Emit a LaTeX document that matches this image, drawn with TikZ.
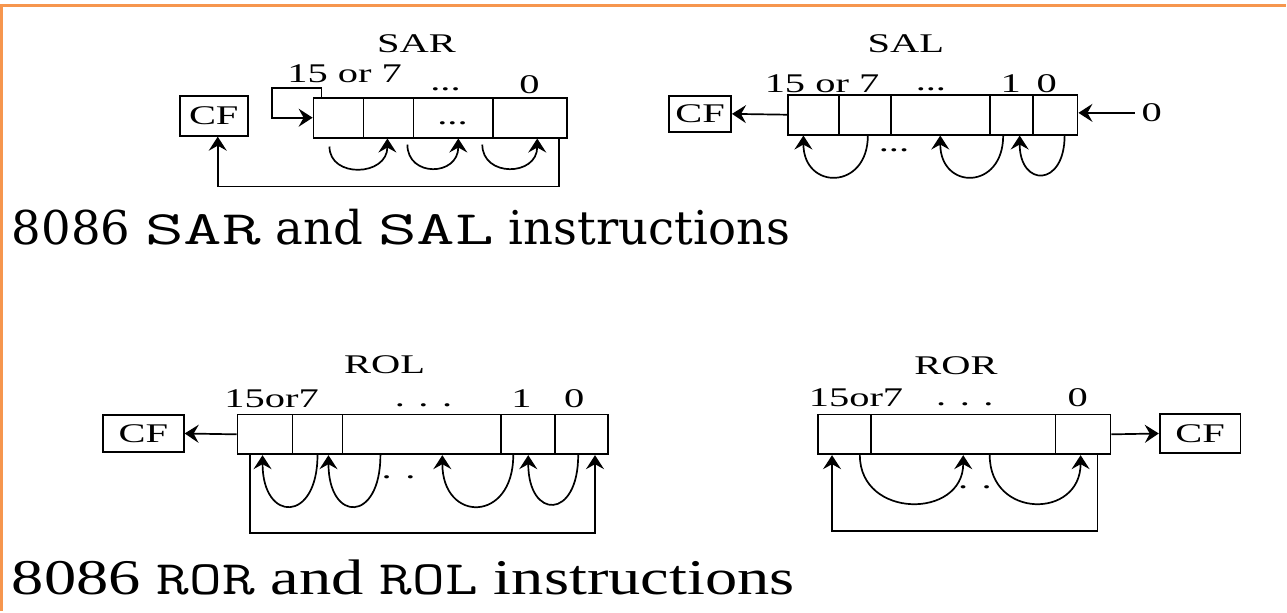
\documentclass[tikz,border=0pt]{standalone}
\usepackage{fontspec}
\usepackage{graphicx}
\setmainfont{Liberation Serif}
\newfontfamily\capfont{DejaVu Serif}
\usetikzlibrary{arrows.meta,positioning}
\definecolor{frame}{RGB}{246,150,78}
% stretch the text sideways like the scan
\newcommand{\hs}[1]{\scalebox{1.5}[1]{#1}}
% wide typewriter word in the captions
\newcommand{\ttw}[2]{\resizebox{#1}{\height}{\ttfamily\fontsize{24}{24}\selectfont #2}}

\tikzset{
  arr/.style={-{Stealth[length=7pt,width=9pt,inset=2.5pt]}},
  cell/.style={draw, anchor=north west, minimum height=20pt, inner sep=0pt},
  flag/.style={draw, inner sep=0pt, font=\fontsize{13.5}{14}\selectfont},
  lbl/.style={inner sep=0pt, font=\fontsize{13.5}{14}\selectfont},
}

\begin{document}
\begin{tikzpicture}[x=0.5pt, y=-0.5pt, line width=0.85pt]
    \fill[white] (0,0) rectangle (1287,612);
    \draw[frame, line width=1.5pt] (1287,6) -- (2,6) -- (2,612);

    % SAR
    \node[lbl] (sarname) at (417,44) {\hs{SAR}};
    \node[lbl] (sarhi) at (345,74) {\hs{15 or 7}};
    \node[lbl] (sardots) at (446,89) {\hs{...}};
    \node[lbl] (sarlo) at (530,85) {\hs{0}};
    \node[flag, minimum width=34pt, minimum height=20pt] (cfa) at (214,116) {\hs{CF}};
    \foreach \xl/\w [count=\i] in {313/50,363/50,413/80,493/74}
        {
            \node[cell, minimum width=\w*0.5pt] (sar\i) at (\xl,97) {};
        }
    \node[lbl] (sarmid) at (453,123) {\hs{...}};

    \draw[arr] ([xshift=4.5pt]sar1.north west) -- ++(0,-9) -- ++(-50,0) |- (sar1.west);
    \draw[arr] ([xshift=-4.5pt,yshift=-4pt]sar1.south) .. controls +(0,32) and +(0,38) .. ([xshift=-0.5pt]sar2.south);
    \draw[arr] ([xshift=9.5pt,yshift=-3pt]sar2.south) .. controls +(0,33) and +(0,38) .. ([xshift=2.5pt]sar3.south);
    \draw[arr] ([xshift=14.5pt,yshift=-3pt]sar3.south) .. controls +(0,33) and +(0,38) .. ([xshift=3.5pt]sar4.south);
    \draw[arr] ([xshift=-4.5pt]sar4.south east) -- ++(0,48) -| ([xshift=2pt]cfa.south);

    % SAL
    \node[lbl] (salname) at (907,44) {\hs{SAL}};
    \node[lbl] (salhi) at (823,84) {\hs{15 or 7}};
    \node[lbl] (saldots) at (932,89) {\hs{...}};
    \node[lbl] (salone) at (1012,84) {\hs{1}};
    \node[lbl] (sallo) at (1048,84) {\hs{0}};
    \node[flag, minimum width=31pt, minimum height=18pt] (cfb) at (701,114) {\hs{CF}};
    \foreach \xl/\w [count=\i] in {788/51,839/52,891/99,990/43,1033/45}
        {
            \node[cell, minimum width=\w*0.5pt] (sal\i) at (\xl,94) {};
        }
    \node[lbl] (salin) at (1153,113) {\hs{0}};
    \node[lbl] (salmid) at (895,150) {\hs{...}};

    \draw[arr] (sal1.west) -- (cfb.east);
    \draw[arr] ([xshift=-3pt]salin.west) -- (salin.west -| sal5.east);
    \draw[arr] ([xshift=1.5pt]sal2.south) .. controls +(0,55) and +(0,55) .. ([xshift=-5pt]sal1.south);
    \draw[arr] ([xshift=-4pt]sal4.south) .. controls +(0,55) and +(0,55) .. (sal3.south);
    \draw[arr] ([xshift=4.75pt]sal5.south) .. controls +(0,52) and +(0,52) .. ([xshift=4.25pt]sal4.south);

    % ROL
    \node[lbl] (rolname) at (385,365) {\hs{ROL}};
    \node[lbl] (rolhi) at (272,399) {\hs{15or7}};
    \node[lbl] (roldots) at (424,406) {\hs{. . .}};
    \node[lbl] (rolone) at (522,399) {\hs{1}};
    \node[lbl] (rollo) at (575,399) {\hs{0}};
    \node[flag, minimum width=40.5pt, minimum height=18.5pt] (cfc) at (143.5,434) {\hs{CF}};
    \foreach \xl/\w [count=\i] in {237/55,292/50,342/159,501/54,555/53}
        {
            \node[cell, minimum width=\w*0.5pt] (rol\i) at (\xl,414) {};
        }
    \node[lbl] (rolmid) at (399,478) {\hs{. .}};

    \draw[arr] (rol1.west) -- (cfc.east);
    \draw[arr] (rol2.south) .. controls +(0,68) and +(0,68) .. ([xshift=-1.25pt]rol1.south);
    \draw[arr] ([xshift=-20.75pt]rol3.south) .. controls +(0,68) and +(0,68) .. ([xshift=5.5pt]rol2.south);
    \draw[arr] ([xshift=-7.5pt]rol4.south) .. controls +(0,68) and +(0,68) .. ([xshift=10.25pt]rol3.south);
    \draw[arr] ([xshift=-1.75pt]rol5.south) .. controls +(0,65) and +(0,65) .. (rol4.south);
    \draw[arr] ([xshift=6.5pt]rol1.south west) -- ++(0,78) -| ([xshift=-7pt]rol5.south east);

    % ROR
    \node[lbl] (rorname) at (957,366) {\hs{ROR}};
    \node[lbl] (rorhi) at (857,398) {\hs{15or7}};
    \node[lbl] (rordots) at (966,405) {\hs{. . .}};
    \node[lbl] (rorlo) at (1079,398) {\hs{0}};
    \node[flag, minimum width=40.5pt, minimum height=19.5pt] (cfd) at (1201.5,434) {\hs{CF}};
    \foreach \xl/\w [count=\i] in {818/53,871/185,1056/55}
        {
            \node[cell, minimum width=\w*0.5pt] (ror\i) at (\xl,414) {};
        }
    \node[lbl] (rormid) at (976,488) {\hs{. .}};

    \draw[arr] (ror3.east) -- (cfd.west);
    \draw[arr] ([xshift=7.75pt]ror1.south) .. controls +(0,64) and +(0,64) .. (ror2.south);
    \draw[arr] ([xshift=13.25pt]ror2.south) .. controls +(0,64) and +(0,64) .. ([xshift=-1.25pt]ror3.south);
    \draw[arr] ([xshift=-7pt]ror3.south east) -- ++(0,76) -| ([xshift=7.5pt]ror1.south west);

    % captions
    \node[anchor=base west, inner sep=0pt] (capsa) at (11,245)
        {\capfont\fontsize{23.3}{24}\selectfont 8086 \ttw{58pt}{SAR} and \ttw{58pt}{SAL} instructions};
    \node[anchor=base west, inner sep=0pt] (capro) at (11,595)
        {\scalebox{1.29}[1]{\fontsize{25}{26}\selectfont 8086 \ttw{38pt}{ROR} and \ttw{38pt}{ROL} instructions}};

\end{tikzpicture}
\end{document}
